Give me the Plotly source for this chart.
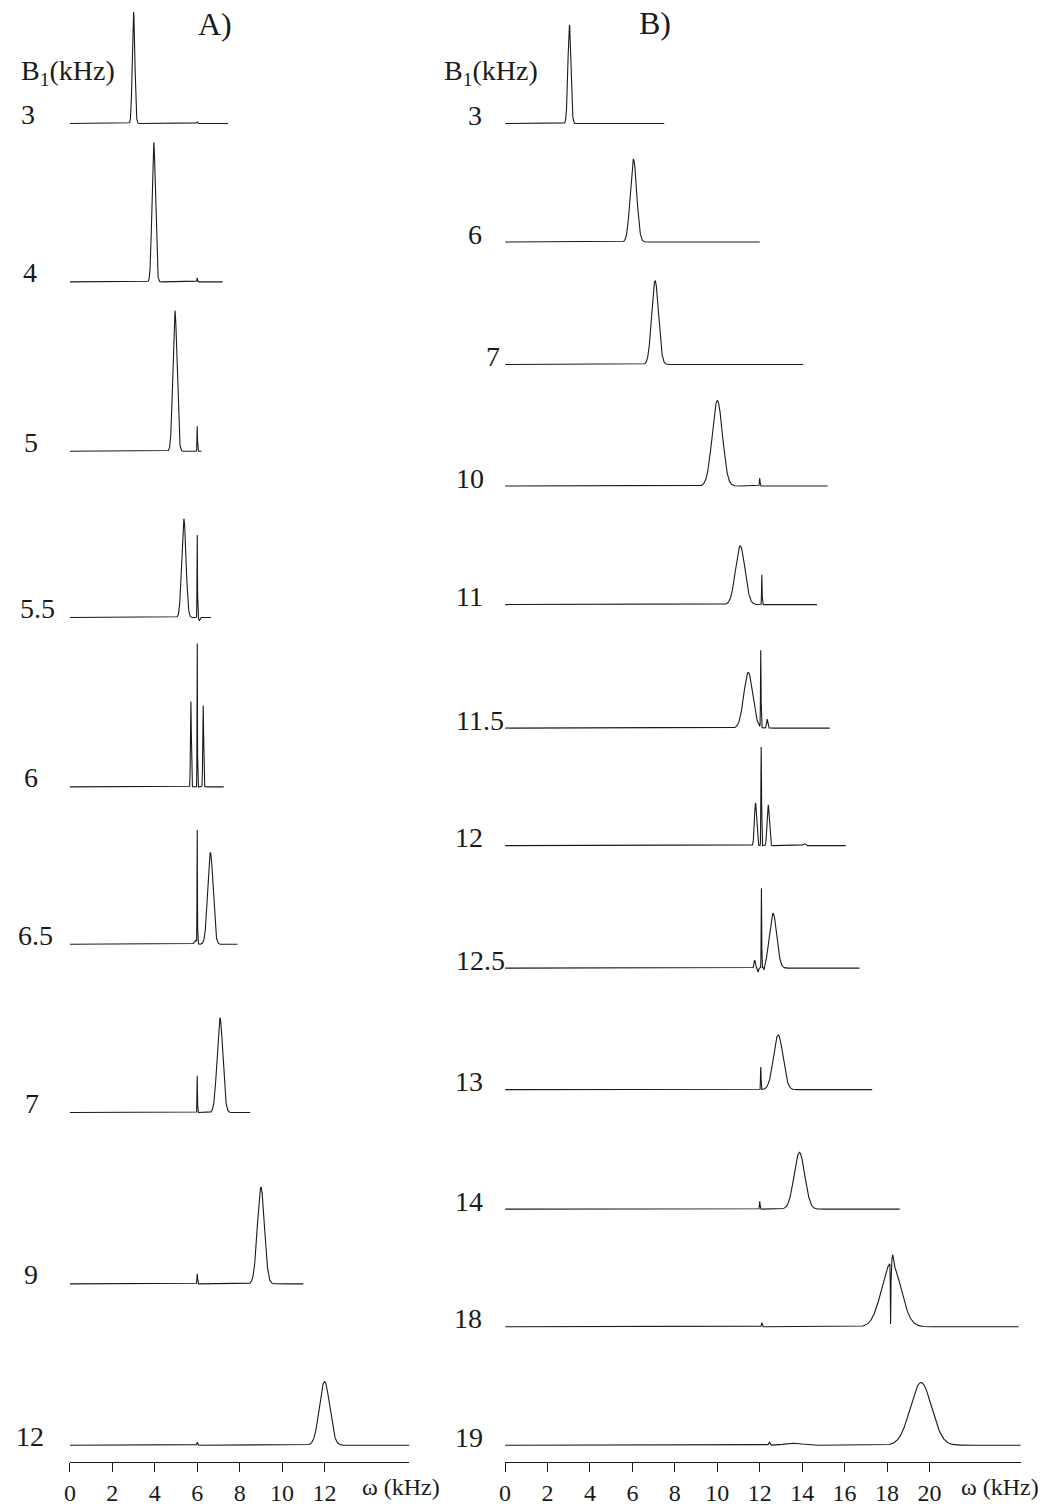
import numpy as np
import plotly.graph_objects as go

# ---------------- data ----------------
# Panel A: B1 values, spectrum extent (kHz) and peaks (centre kHz, height, width kHz)
A_labels = ["3", "4", "5", "5.5", "6", "6.5", "7", "9", "12"]
A_end = [7.45, 7.2, 6.2, 6.65, 7.25, 7.9, 8.5, 11.0, 16.0]
A_peaks = [
    [(3.0, 112, 0.06), (6.0, 1.5, 0.02)],
    [(3.95, 140, 0.08), (6.0, 4, 0.015)],
    [(4.95, 141, 0.095), (6.0, 25, 0.012)],
    [(5.37, 99, 0.1), (6.0, 84, 0.011), (6.1, -3, 0.03)],
    [(5.7, 86, 0.02), (6.0, 146, 0.01), (6.28, 82, 0.02)],
    [(5.92, 4, 0.06), (6.0, 113, 0.01), (6.62, 92, 0.125)],
    [(6.0, 37, 0.011), (7.07, 95, 0.135)],
    [(6.0, 10, 0.015), (9.0, 97, 0.165)],
    [(6.0, 3, 0.02), (12.0, 64, 0.24)],
]

# Panel B
B_labels = ["3", "6", "7", "10", "11", "11.5", "12", "12.5", "13", "14", "18", "19"]
B_end = [7.5, 12.0, 14.05, 15.2, 14.7, 15.3, 16.05, 16.7, 17.3, 18.6, 24.2, 24.3]
B_peaks = [
    [(3.03, 99, 0.07)],
    [(6.05, 83, 0.15)],
    [(7.07, 84, 0.16)],
    [(10.0, 86, 0.24), (12.0, 8, 0.015)],
    [(11.08, 59, 0.22), (12.1, 30, 0.012)],
    [(11.46, 56, 0.21), (12.05, 78, 0.012), (12.35, 9, 0.03)],
    [(11.8, 43, 0.05), (12.07, 99, 0.015), (12.4, 41, 0.05), (14.1, 2, 0.05)],
    [(11.76, 8, 0.03), (11.92, -4, 0.02), (12.08, 80, 0.012), (12.2, -4, 0.02), (12.63, 55, 0.17)],
    [(12.05, 23, 0.012), (12.87, 55, 0.22)],
    [(12.0, 8, 0.015), (13.87, 57, 0.25)],
    [(12.1, 4, 0.02), (18.2, 64, 0.45), (18.17, -62, 0.012), (18.27, 9, 0.03)],
    [(12.45, 3, 0.03), (13.6, 2, 0.4), (19.6, 63, 0.5)],
]

A_ticks = [0, 2, 4, 6, 8, 10, 12]
B_ticks = [0, 2, 4, 6, 8, 10, 12, 14, 16, 18, 20]

# ---------------- layout (pixel positions) ----------------
W, H = 1045, 1506
A_base_px = [124, 283, 453, 620, 790, 948, 1117, 1289, 1451]
A_label_x = [22, 24, 25, 32, 25, 30, 26, 25, 24]
B_base_px = [124, 243, 366, 488, 607, 731, 849, 972, 1094, 1214, 1332, 1451]
B_label_x = [472, 472, 490, 467, 466, 477, 466, 477, 466, 466, 465, 466]
axis_px = 1468
A_dom = (64.3, 405.7)
B_dom = (502.0, 1021.0)
px_per_khz = 21.34

FONT = "Liberation Serif, Times New Roman, serif"
INK = "#1a1a1a"


def spectrum(peaks, x_end):
    x = np.linspace(0, x_end, int(x_end / 0.004) + 1)
    y = np.zeros_like(x)
    for c, h, s in peaks:
        y += h * np.exp(-0.5 * ((x - c) / s) ** 2)
    return x, y


fig = go.Figure()
for peaks, xe, base in zip(A_peaks, A_end, A_base_px):
    x, y = spectrum(peaks, xe)
    fig.add_trace(go.Scatter(x=x, y=base - y, mode="lines", xaxis="x", yaxis="y",
                             line=dict(color=INK, width=1.1), hoverinfo="skip", showlegend=False))
for peaks, xe, base in zip(B_peaks, B_end, B_base_px):
    x, y = spectrum(peaks, xe)
    fig.add_trace(go.Scatter(x=x, y=base - y, mode="lines", xaxis="x2", yaxis="y2",
                             line=dict(color=INK, width=1.1), hoverinfo="skip", showlegend=False))


def py(p):
    return 1 - p / H


def px(p):
    return p / W


axis_common = dict(
    anchor="free", position=py(axis_px), showline=True, linecolor=INK, linewidth=1.2,
    ticks="outside", ticklen=9, tickwidth=1.2, tickcolor=INK, showgrid=False, zeroline=False,
    tickfont=dict(family=FONT, size=24, color=INK), fixedrange=True,
)
fig.update_layout(
    width=W, height=H, margin=dict(l=0, r=0, t=0, b=0),
    paper_bgcolor="white", plot_bgcolor="white",
    xaxis=dict(domain=[px(A_dom[0]), px(A_dom[1])],
               range=[0, (A_dom[1] - A_dom[0]) / px_per_khz], tickvals=A_ticks, **axis_common),
    xaxis2=dict(domain=[px(B_dom[0]), px(B_dom[1])],
                range=[0, (B_dom[1] - B_dom[0]) / px_per_khz], tickvals=B_ticks, **axis_common),
    yaxis=dict(domain=[0, 1], range=[H, 0], visible=False, anchor="x", fixedrange=True),
    yaxis2=dict(domain=[0, 1], range=[H, 0], visible=False, anchor="x2", fixedrange=True),
)

ann = []
lab_font = dict(family=FONT, size=28, color=INK)
for lab, base, lx in zip(A_labels, A_base_px, A_label_x):
    ann.append(dict(x=px(lx), y=py(base - 9), text=lab, font=lab_font))
for lab, base, lx in zip(B_labels, B_base_px, B_label_x):
    ann.append(dict(x=px(lx), y=py(base - 8), text=lab, font=lab_font))
ann += [
    dict(x=px(210), y=py(24), text="A)", font=dict(family=FONT, size=32, color=INK)),
    dict(x=px(653), y=py(23), text="B)", font=dict(family=FONT, size=32, color=INK)),
    dict(x=px(13), y=py(73), text="B<sub>1</sub>(kHz)", xanchor="left", font=lab_font),
    dict(x=px(439), y=py(73), text="B<sub>1</sub>(kHz)", xanchor="left", font=lab_font),
    dict(x=px(397), y=py(1493), text="ω (kHz)", font=dict(family=FONT, size=24, color=INK)),
    dict(x=px(1000), y=py(1493), text="ω (kHz)", font=dict(family=FONT, size=24, color=INK)),
]
for a in ann:
    a.setdefault("xanchor", "center")
    a.update(xref="paper", yref="paper", yanchor="middle", showarrow=False)
fig.update_layout(annotations=ann)

fig.write_html(
    "out.html",
    config={"displayModeBar": False},
    post_script="document.body.style.margin='0px';document.body.style.overflow='hidden';",
)
